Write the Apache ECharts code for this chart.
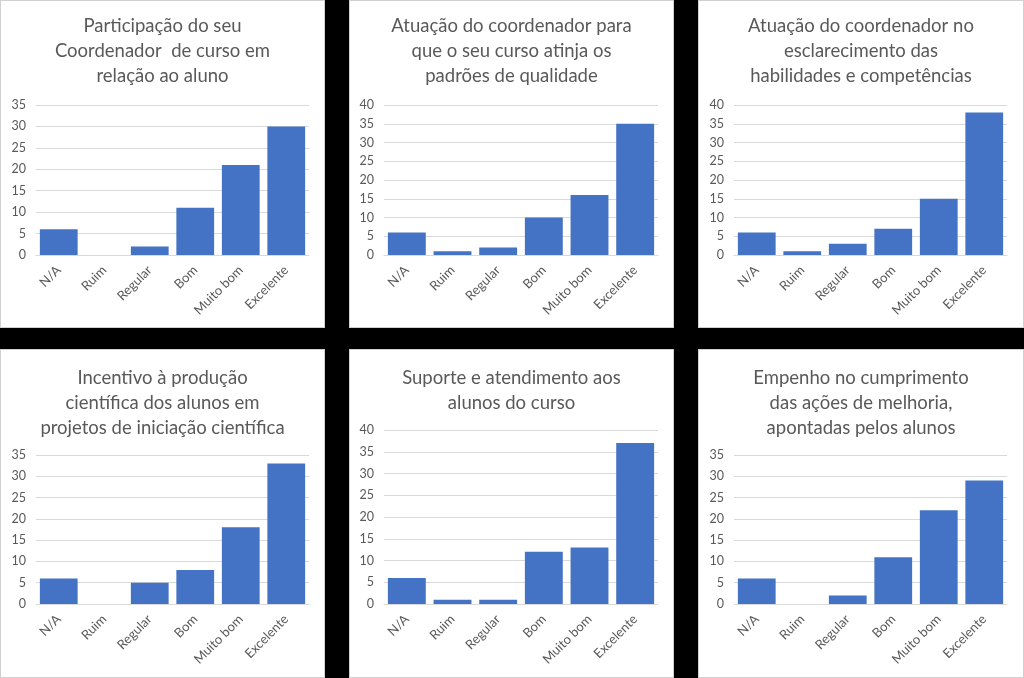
<!DOCTYPE html>
<html>
<head>
<meta charset="utf-8">
<script src="https://cdn.jsdelivr.net/npm/echarts@6/dist/echarts.min.js"></script>
<style>
  html, body { margin: 0; padding: 0; background: #000; }
  body { width: 1024px; height: 678px; position: relative; overflow: hidden; }
  .painel { position: absolute; background: #fff; box-sizing: border-box; border: 1px solid #d0d0d0; }
</style>
</head>
<body>
<div id="p1" class="painel" style="left:0;top:0;width:325px;height:328px"></div>
<div id="p2" class="painel" style="left:349px;top:0;width:325px;height:328px"></div>
<div id="p3" class="painel" style="left:698px;top:0;width:326px;height:328px"></div>
<div id="p4" class="painel" style="left:0;top:349px;width:325px;height:329px"></div>
<div id="p5" class="painel" style="left:349px;top:349px;width:325px;height:329px"></div>
<div id="p6" class="painel" style="left:698px;top:349px;width:326px;height:329px"></div>
<script>
// categorias da escala
const categorias = ["N/A", "Ruim", "Regular", "Bom", "Muito bom", "Excelente"];

// valores de cada pergunta
const participacao = [6, 0, 2, 11, 21, 30];
const qualidade = [6, 1, 2, 10, 16, 35];
const habilidades = [6, 1, 3, 7, 15, 38];
const incentivo = [6, 0, 5, 8, 18, 33];
const suporte = [6, 1, 1, 12, 13, 37];
const empenho = [6, 0, 2, 11, 22, 29];

const titulos = [
  "Participação do seu\nCoordenador  de curso em\nrelação ao aluno",
  "Atuação do coordenador para\nque o seu curso atinja os\npadrões de qualidade",
  "Atuação do coordenador no\nesclarecimento das\nhabilidades e competências",
  "Incentivo à produção\ncientífica dos alunos em\nprojetos de iniciação científica",
  "Suporte e atendimento aos\nalunos do curso",
  "Empenho no cumprimento\ndas ações de melhoria,\napontadas pelos alunos"
];

const maximos = [35, 40, 40, 35, 40, 35];

const paineis = [
  { id: "p1", dados: participacao, grid: { left: 35, right: 15, top: 104, bottom: 72 }, tituloTop: 8 },
  { id: "p2", dados: qualidade, grid: { left: 34, right: 15, top: 104, bottom: 72 }, tituloTop: 8 },
  { id: "p3", dados: habilidades, grid: { left: 35, right: 16, top: 104, bottom: 72 }, tituloTop: 8 },
  { id: "p4", dados: incentivo, grid: { left: 35, right: 15, top: 105, bottom: 73 }, tituloTop: 11 },
  { id: "p5", dados: suporte, grid: { left: 34, right: 15, top: 80, bottom: 73 }, tituloTop: 11 },
  { id: "p6", dados: empenho, grid: { left: 35, right: 16, top: 105, bottom: 73 }, tituloTop: 11 }
];

const fonte = "Lato, 'Open Sans', sans-serif";
const cinza = "#595959";

paineis.forEach(function (p, i) {
  const chart = echarts.init(document.getElementById(p.id));
  chart.setOption({
    animation: false,
    backgroundColor: "#fff",
    title: {
      text: titulos[i],
      left: "center",
      top: p.tituloTop,
      textStyle: {
        fontFamily: fonte,
        fontSize: 18.5,
        fontWeight: "normal",
        color: cinza,
        lineHeight: 25
      }
    },
    grid: p.grid,
    xAxis: {
      type: "category",
      data: categorias,
      axisTick: { show: false },
      axisLine: { lineStyle: { color: "#d9d9d9" } },
      axisLabel: {
        rotate: 45,
        margin: 13,
        interval: 0,
        color: cinza,
        fontFamily: fonte,
        fontSize: 13
      }
    },
    yAxis: {
      type: "value",
      min: 0,
      max: maximos[i],
      interval: 5,
      axisLine: { show: false },
      axisTick: { show: false },
      splitLine: { lineStyle: { color: "#d9d9d9" } },
      axisLabel: {
        margin: 10,
        color: cinza,
        fontFamily: fonte,
        fontSize: 12.5
      }
    },
    series: [
      {
        type: "bar",
        data: p.dados,
        barCategoryGap: "17%",
        itemStyle: { color: "#4472c4" }
      }
    ]
  });
});
</script>
</body>
</html>
